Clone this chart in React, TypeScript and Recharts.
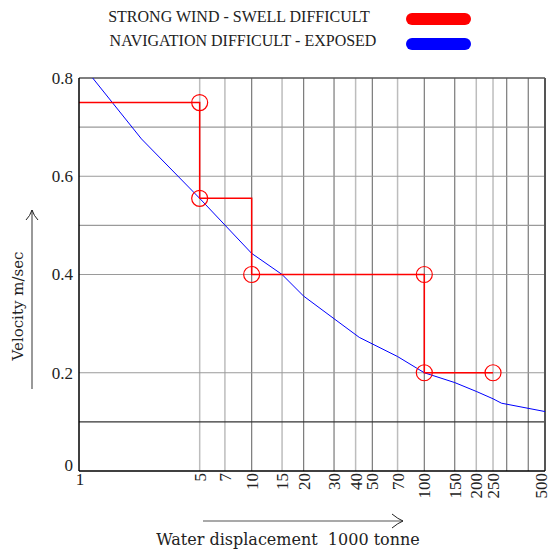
import React from 'react';
import {
  ComposedChart,
  Line,
  Scatter,
  XAxis,
  YAxis,
  ReferenceLine,
} from 'recharts';

// exposed / navigation difficult curve
const BLUE_X = [1.2, 2.3, 5, 10, 15, 20, 30, 42, 70, 100, 150, 200, 250, 280, 500];
const BLUE_Y = [0.8, 0.676, 0.555, 0.443, 0.4, 0.356, 0.31, 0.272, 0.233, 0.2, 0.18, 0.162, 0.147, 0.138, 0.121];

// strong wind / swell step line
const RED_X = [1, 5, 5, 10, 10, 100, 100, 250];
const RED_Y = [0.75, 0.75, 0.555, 0.555, 0.4, 0.4, 0.2, 0.2];

// circled points on the step line
const CIRCLE_X = [5, 5, 10, 100, 100, 250];
const CIRCLE_Y = [0.75, 0.555, 0.4, 0.4, 0.2, 0.2];

const X_TICKS = [1, 5, 7, 10, 15, 20, 30, 40, 50, 70, 100, 150, 200, 250, 500];
const Y_TICKS = [0, 0.2, 0.4, 0.6, 0.8];

const GRID_X_DARK = [10, 20, 30, 50, 100, 150, 300, 400];
const GRID_X_LIGHT = [5, 7, 15, 40, 70, 200, 250];
const GRID_Y = [0.2, 0.4, 0.5, 0.6, 0.7];
const GRID_Y_DARK = [0.1];

const blueData = BLUE_X.map((x, i) => ({ x, y: BLUE_Y[i] }));
const redData = RED_X.map((x, i) => ({ x, y: RED_Y[i] }));
const circleData = CIRCLE_X.map((x, i) => ({ x, y: CIRCLE_Y[i] }));

const SERIF = '"Liberation Serif", "Times New Roman", serif';
const WIDE_SERIF = '"DejaVu Serif", serif';

const XTick = (props: any) => {
  const { x, y, payload } = props;
  if (payload.value === 1) {
    return (
      <text x={x + 1} y={y + 14} textAnchor="middle" fontFamily={SERIF} fontSize={17} fill="#222">
        1
      </text>
    );
  }
  // keep the last label inside the picture
  const tx = Math.min(x, 541);
  return (
    <text
      x={tx}
      y={y + 2}
      dy="0.35em"
      textAnchor="end"
      transform={`rotate(-90, ${tx}, ${y + 2})`}
      fontFamily={SERIF}
      fontSize={17}
      fill="#222"
    >
      {payload.value}
    </text>
  );
};

const YTick = (props: any) => {
  const { x, y, payload } = props;
  const shift = payload.value === 0 ? -6 : 0;
  return (
    <text x={x - 6} y={y + shift} dy="0.35em" textAnchor="end" fontFamily={SERIF} fontSize={17} fill="#222">
      {payload.value}
    </text>
  );
};

const Ring = (props: any) => (
  <circle cx={props.cx} cy={props.cy} r={8} fill="none" stroke="#ff0000" strokeWidth={1.2} />
);

export default function App() {
  return (
    <div style={{ position: 'absolute', left: 0, top: 0, width: 552, height: 551, background: '#fff' }}>
      <ComposedChart width={552} height={551} margin={{ top: 78, right: 7, left: 0, bottom: 0 }}>
        <XAxis
          dataKey="x"
          type="number"
          scale="log"
          domain={[1, 500]}
          ticks={X_TICKS}
          interval={0}
          allowDataOverflow
          height={80}
          tickSize={0}
          tickMargin={0}
          axisLine={{ stroke: '#000', strokeWidth: 1.5 }}
          tick={<XTick />}
        />
        <YAxis
          type="number"
          domain={[0, 0.8]}
          ticks={Y_TICKS}
          width={79}
          tickSize={0}
          tickMargin={0}
          axisLine={{ stroke: '#000', strokeWidth: 1.5 }}
          tick={<YTick />}
        />
        {GRID_X_LIGHT.map((v) => (
          <ReferenceLine key={`xl${v}`} x={v} stroke="#bdbdbd" strokeWidth={1.5} />
        ))}
        {GRID_X_DARK.map((v) => (
          <ReferenceLine key={`xd${v}`} x={v} stroke="#7a7a7a" strokeWidth={1.2} />
        ))}
        {GRID_Y.map((v) => (
          <ReferenceLine key={`y${v}`} y={v} stroke="#9a9a9a" strokeWidth={1.2} />
        ))}
        {GRID_Y_DARK.map((v) => (
          <ReferenceLine key={`yd${v}`} y={v} stroke="#333" strokeWidth={1.2} />
        ))}
        <ReferenceLine y={0.8} stroke="#555" strokeWidth={1.5} />
        <ReferenceLine x={500} stroke="#555" strokeWidth={2} />
        <Line
          data={blueData}
          dataKey="y"
          type="linear"
          stroke="#0000ff"
          strokeWidth={1}
          dot={false}
          isAnimationActive={false}
        />
        <Line
          data={redData}
          dataKey="y"
          type="linear"
          stroke="#ff0000"
          strokeWidth={1.5}
          dot={false}
          isAnimationActive={false}
        />
        <Scatter data={circleData} dataKey="y" shape={<Ring />} isAnimationActive={false} />
      </ComposedChart>

      <svg
        width={552}
        height={551}
        style={{ position: 'absolute', left: 0, top: 0, pointerEvents: 'none' }}
      >
        {/* legend */}
        <text x={239} y={22} textAnchor="middle" fontFamily={SERIF} fontSize={16} fill="#222">
          STRONG WIND - SWELL DIFFICULT
        </text>
        <rect x={406} y={13} width={65} height={12} rx={6} fill="#ff0000" />
        <text x={243} y={46} textAnchor="middle" fontFamily={SERIF} fontSize={16} fill="#222">
          NAVIGATION DIFFICULT - EXPOSED
        </text>
        <rect x={406} y={38} width={65} height={12} rx={6} fill="#0000ff" />

        {/* y axis title and arrow */}
        <text
          x={18}
          y={306}
          dy="0.35em"
          textAnchor="middle"
          transform="rotate(-90, 18, 306)"
          fontFamily={WIDE_SERIF}
          fontSize={15}
          fill="#222"
        >
          Velocity m/sec
        </text>
        <line x1={32} y1={389} x2={32} y2={210} stroke="#555" strokeWidth={1.2} />
        <path d="M 26 220 Q 30 216 32 210 Q 34 216 38 220" fill="none" stroke="#222" strokeWidth={1} />

        {/* x axis title and arrow */}
        <line x1={203} y1={521} x2={403} y2={521} stroke="#555" strokeWidth={1.2} />
        <path d="M 392 514 Q 398 519 403 521 Q 398 523 392 528" fill="none" stroke="#222" strokeWidth={1} />
        <text
          x={288}
          y={545}
          textAnchor="middle"
          fontFamily={WIDE_SERIF}
          fontSize={16}
          fill="#222"
          style={{ whiteSpace: 'pre' }}
        >
          {'Water displacement  1000 tonne'}
        </text>
      </svg>
    </div>
  );
}
